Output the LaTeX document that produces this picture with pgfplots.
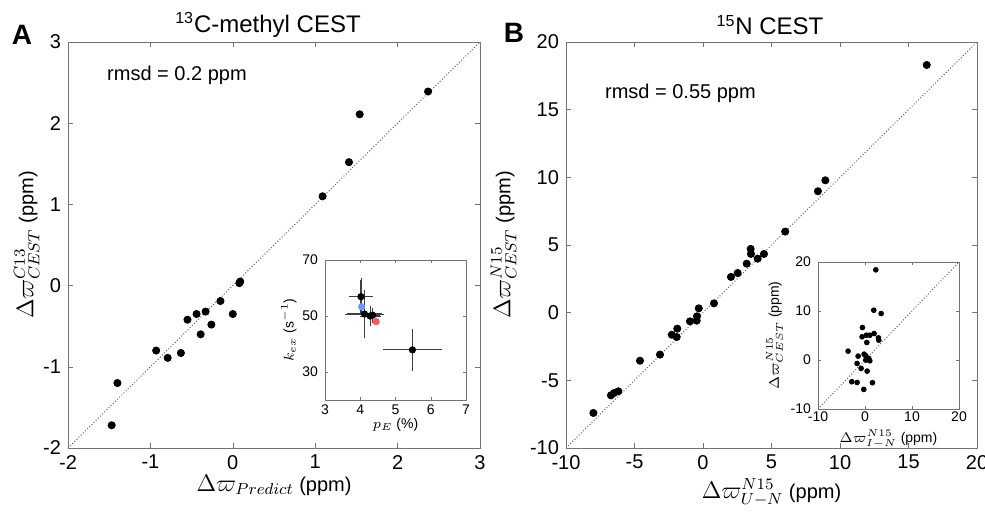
\documentclass[border=0pt]{standalone}
\usepackage{pgfplots}
\pgfplotsset{compat=1.18}
\usepackage{fontspec}
\setmainfont{Liberation Sans}

\definecolor{ptblue}{RGB}{110,150,255}
\definecolor{ptred}{RGB}{255,90,90}

\begin{document}
\begin{tikzpicture}
\path[use as bounding box] (0,0) rectangle (492.5pt,257pt);
\pgfplotsset{
  every axis/.append style={
    scale only axis, anchor=south west,
    axis line style={black!55}, major tick style={black!55},
    major tick length=2.5pt,
    tick label style={font=\fontsize{10}{12}\selectfont},
    label style={font=\fontsize{10}{12}\selectfont},
    /pgf/number format/assume math mode=true,
    axis background/.style={fill=white},
  },
  dots/.style={only marks, mark=*, mark size=1.8pt, black},
  diag/.style={black!60, densely dotted, line width=0.5pt},
}

% panel A
\begin{axis}[at={(34pt,33pt)}, width=206pt, height=203pt,
  xmin=-2, xmax=3, ymin=-2, ymax=3,
  xtick={-2,...,3}, ytick={-2,...,3},
  xlabel={{\large$\Delta\varpi_{Predict}$} (ppm)},
  ylabel={{\large$\Delta\varpi^{C13}_{CEST}$} (ppm)},
  xlabel style={yshift=4pt}, ylabel style={yshift=-5pt},
]
\addplot[diag] coordinates {(-2,-2) (3,3)};
\addplot[dots] coordinates {
(2.37,2.39) (1.54,2.11) (1.41,1.52) (1.09,1.10)
(0.08,0.03) (0.09,0.05) (0.00,-0.35) (-0.15,-0.19) (-0.26,-0.48)
(-0.33,-0.32) (-0.39,-0.60) (-0.44,-0.35) (-0.55,-0.42) (-0.63,-0.83)
(-0.79,-0.89) (-0.93,-0.80) (-1.40,-1.20) (-1.47,-1.72)
};
\node[anchor=west, font=\fontsize{10}{12}\selectfont] at (axis cs:-1.61,2.59) {rmsd = 0.2 ppm};
\end{axis}

% panel B
\begin{axis}[at={(283pt,33pt)}, width=205.5pt, height=203pt,
  xmin=-10, xmax=20, ymin=-10, ymax=20,
  xtick={-10,-5,...,20}, ytick={-10,-5,...,20},
  xlabel={{\large$\Delta\varpi^{N15}_{U-N}$} (ppm)},
  ylabel={{\large$\Delta\varpi^{N15}_{CEST}$} (ppm)},
  xlabel style={yshift=2pt},
]
\addplot[diag] coordinates {(-10,-10) (20,20)};
\addplot[dots] coordinates {
(16.33,18.3) (8.93,9.78) (8.39,8.97) (6.00,5.99)
(-8.00,-7.41) (-6.72,-6.11) (-6.50,-5.94) (-6.18,-5.81) (-4.60,-3.55)
(-3.14,-3.10) (-2.28,-1.63) (-1.92,-1.80) (-1.88,-1.18) (-0.95,-0.64)
(-0.46,-0.59) (-0.44,-0.27) (-0.31,0.32) (0.80,0.69) (2.04,2.64)
(2.53,2.93) (3.19,3.62) (3.48,4.71) (3.50,4.34) (3.99,3.99) (4.45,4.34)
};
\node[anchor=west, font=\fontsize{10}{12}\selectfont] at (axis cs:-7.66,16.2) {rmsd = 0.55 ppm};
\end{axis}

% inset A
\begin{axis}[at={(162.5pt,57pt)}, width=70.5pt, height=70pt,
  xmin=3, xmax=7, ymin=20, ymax=70,
  xtick={3,...,7}, ytick={30,50,70},
  major tick length=1.5pt,
  tick label style={font=\fontsize{7}{8}\selectfont},
  label style={font=\fontsize{7}{8}\selectfont},
  xticklabel style={yshift=1pt},
  xlabel={$p_E$ (\%)}, ylabel={$k_{ex}$ (s$^{-1}$)},
  xlabel style={yshift=5pt}, ylabel style={yshift=-4pt},
]
\addplot[only marks, mark=*, mark size=1.6pt, black,
  error bars/.cd, x dir=both, y dir=both, x explicit, y explicit,
  error bar style={line width=0.6pt, black!75},
  error mark options={mark size=1pt, black!75}]
coordinates {
(4.02,56.9) +- (0.28,6)
(4.12,50.7) +- (0.5,8)
(4.28,50.0) +- (0.24,3)
(4.35,50.3) +- (0.15,2)
(5.48,37.9) +- (0.77,6.8)
};
\addplot[only marks, mark=*, mark size=1.6pt, ptblue] coordinates {(4.04,53.3)};
\addplot[only marks, mark=*, mark size=1.6pt, ptred] coordinates {(4.45,48.0)};
\end{axis}

% inset B
\begin{axis}[at={(409pt,52.5pt)}, width=70.5pt, height=73.5pt,
  xmin=-10, xmax=20, ymin=-10, ymax=20,
  xtick={-10,0,10,20}, ytick={-10,0,10,20},
  major tick length=1.5pt,
  tick label style={font=\fontsize{7}{8}\selectfont},
  label style={font=\fontsize{7}{8}\selectfont},
  xticklabel style={yshift=2pt},
  xlabel={$\Delta\varpi^{N15}_{I-N}$ (ppm)},
  ylabel={$\Delta\varpi^{N15}_{CEST}$ (ppm)},
  xlabel style={yshift=3pt}, ylabel style={yshift=-3pt},
]
\addplot[diag] coordinates {(-10,-10) (20,20)};
\addplot[only marks, mark=*, mark size=1.2pt, black] coordinates {
(2.30,18.4) (1.87,10.16) (3.43,9.48) (-0.55,6.63) (-0.62,4.73) (0.31,5.06)
(1.02,5.06) (1.94,5.40) (2.86,4.52) (2.94,4.05) (0.38,3.57) (-3.60,1.81)
(-0.19,1.19) (0.16,0.86) (-1.47,0.79) (0.80,0.31) (0.16,-0.03) (1.02,-0.16)
(-1.68,-0.71) (-0.83,-1.72) (0.45,-2.27) (-2.82,-4.44) (-1.68,-4.58)
(1.58,-4.64) (-0.26,-6.0)
};
\end{axis}

\node[font=\fontsize{12}{14}\selectfont] at (134pt,244.5pt) {\textsuperscript{13}C-methyl CEST};
\node[font=\fontsize{12}{14}\selectfont] at (385pt,244.5pt) {\textsuperscript{15}N CEST};
\node[font=\fontsize{14}{16}\selectfont\bfseries] at (11pt,239.5pt) {A};
\node[font=\fontsize{14}{16}\selectfont\bfseries] at (257pt,240.5pt) {B};
\end{tikzpicture}
\end{document}
